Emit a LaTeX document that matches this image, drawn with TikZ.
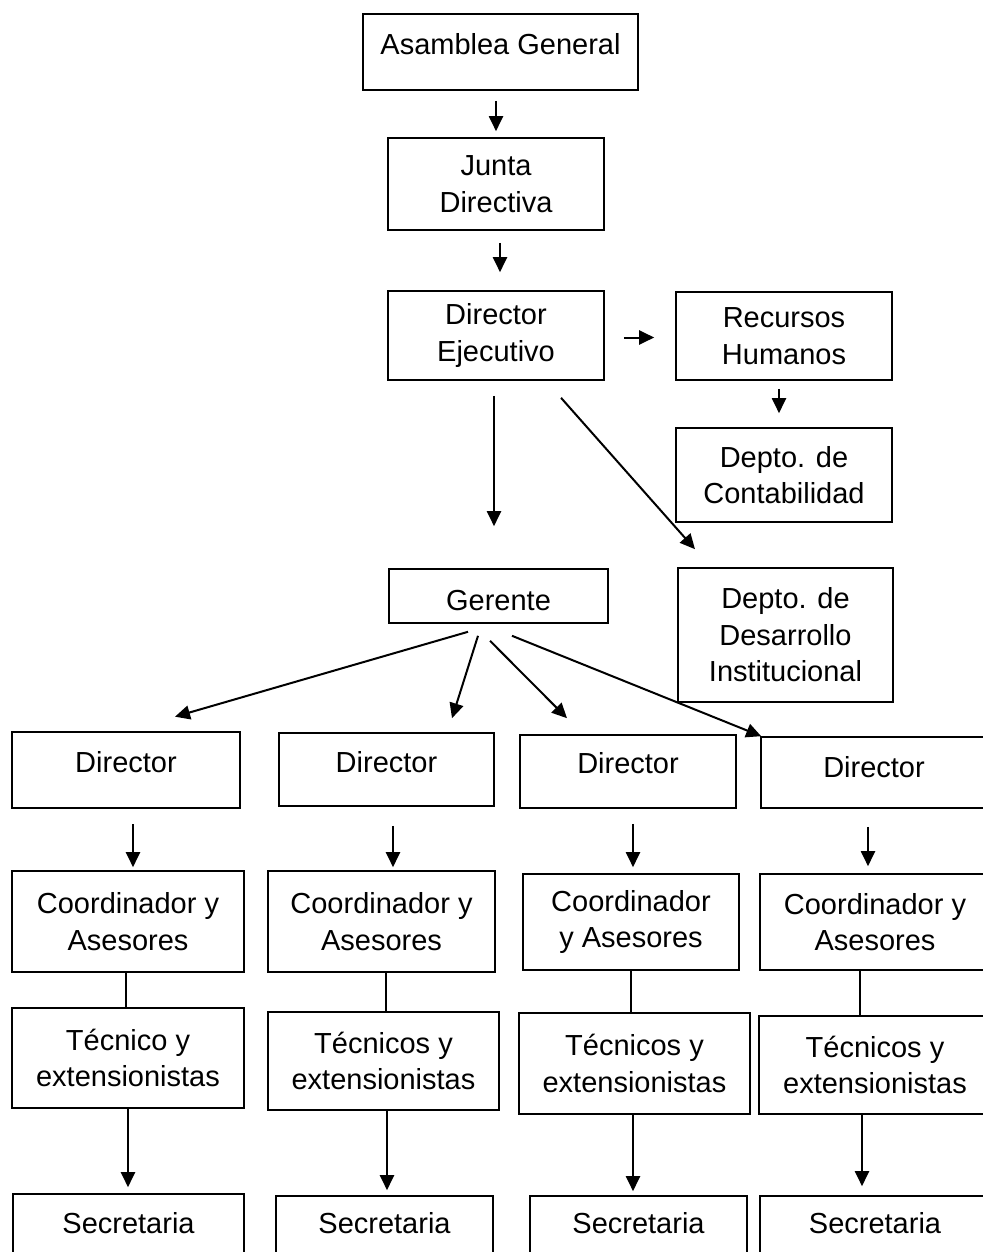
\documentclass[tikz,border=0pt]{standalone}
\usepackage{fontspec}
\setmainfont{Liberation Sans}
\usetikzlibrary{shapes, arrows.meta}
\tikzstyle{unit} = [rectangle, draw=black, line width=1.6pt, align=center, inner sep=0pt, font=\fontsize{29pt}{36.5pt}\selectfont]
\tikzstyle{edge} = [line width=2pt, -{Triangle[length=15pt, width=14pt]}]
\tikzstyle{link} = [line width=2pt]

\begin{document}
\begin{tikzpicture}[x=1pt, y=-1pt]
\useasboundingbox (0,0) rectangle (982,1252);

% upper levels
\node (ag) [unit, minimum width=275pt, minimum height=76pt, text depth=16pt] at (500.5,52) {Asamblea General};
\node (jd) [unit, minimum width=216pt, minimum height=92pt] at (496,184) {Junta\\Directiva};
\node (de) [unit, minimum width=216pt, minimum height=89pt] at (496,335.5) {Director\\Ejecutivo};
\node (rh) [unit, minimum width=216pt, minimum height=88pt] at (784,336) {Recursos\\Humanos};
\node (dc) [unit, minimum width=216pt, minimum height=94pt] at (784,475) {Depto. de\\Contabilidad};
\node (ger) [unit, minimum width=219pt, minimum height=54pt, text height=29pt] at (498.5,596) {Gerente};
\node (ddi) [unit, minimum width=215pt, minimum height=134pt] at (785.5,635) {Depto. de\\Desarrollo\\Institucional};

% directors
\node (d1) [unit, line width=2.6pt, minimum width=228pt, minimum height=76pt, text depth=16pt] at (126,770) {Director};
\node (d2) [unit, minimum width=215pt, minimum height=73pt, text depth=15pt] at (386.5,769.5) {Director};
\node (d3) [unit, minimum width=216pt, minimum height=73pt, text depth=17pt] at (628,771.5) {Director};
\node (d4) [unit, minimum width=226pt, minimum height=71pt, text depth=11pt] at (874,772.5) {Director};

% coordinators
\node (c1) [unit, minimum width=232pt, minimum height=101pt] at (128,921.5) {Coordinador y\\Asesores};
\node (c2) [unit, minimum width=227pt, minimum height=101pt] at (381.5,921.5) {Coordinador y\\Asesores};
\node (c3) [unit, minimum width=216pt, minimum height=96pt] at (631,922) {Coordinador\\y Asesores};
\node (c4) [unit, minimum width=230pt, minimum height=96pt] at (875,922) {Coordinador y\\Asesores};

% technicians
\node (t1) [unit, minimum width=232pt, minimum height=100pt] at (128,1058) {Técnico y\\extensionistas};
\node (t2) [unit, minimum width=231pt, minimum height=98pt] at (383.5,1061) {Técnicos y\\extensionistas};
\node (t3) [unit, minimum width=231pt, minimum height=101pt] at (634.5,1063.5) {Técnicos y\\extensionistas};
\node (t4) [unit, minimum width=232pt, minimum height=98pt] at (875,1065) {Técnicos y\\extensionistas};

% secretaries
\node (s1) [unit, minimum width=231pt, minimum height=68pt, text depth=10pt] at (128.5,1228) {Secretaria};
\node (s2) [unit, minimum width=217pt, minimum height=66pt, text depth=12pt] at (384.5,1229) {Secretaria};
\node (s3) [unit, minimum width=217pt, minimum height=66pt, text depth=12pt] at (638.5,1229) {Secretaria};
\node (s4) [unit, minimum width=230pt, minimum height=66pt, text depth=12pt] at (875,1229) {Secretaria};

\draw [edge, shorten <=10pt, shorten >=6pt] (ag.south -| jd.north) -- (jd.north);
\draw [edge, shorten <=12pt, shorten >=18pt] ([xshift=4pt]jd.south) -- ([xshift=4pt]de.north);
\draw [edge, shorten <=19pt, shorten >=21pt] ([yshift=-2pt]de.east) -- ([yshift=-2pt]de.east -| rh.west);
\draw [edge, shorten <=8pt, shorten >=14pt] ([xshift=-5pt]rh.south) -- ([xshift=-5pt]dc.north);
\draw [edge, shorten <=15pt, shorten >=42pt] ([xshift=-2pt]de.south) -- ([xshift=-2pt]de.south |- ger.north);
\draw [edge] ([xshift=65pt, yshift=-17pt]de.south) -- ([xshift=-90.5pt, yshift=18pt]ddi.north);

\draw [edge] ([xshift=-30.5pt, yshift=-8pt]ger.south) -- ([xshift=49pt, yshift=14pt]d1.north);
\draw [edge] ([xshift=-20.5pt, yshift=-12pt]ger.south) -- ([xshift=65.5pt, yshift=14pt]d2.north);
\draw [edge] ([xshift=-8.5pt, yshift=-17pt]ger.south) -- ([xshift=-61pt, yshift=16pt]d3.north);
\draw [edge] ([xshift=13.5pt, yshift=-12pt]ger.south) -- ([xshift=1pt]d4.north west);

\draw [edge, shorten <=15pt, shorten >=3pt] ([xshift=7pt]d1.south) -- ([xshift=5pt]c1.north);
\draw [edge, shorten <=19pt, shorten >=3pt] ([xshift=6.5pt]d2.south) -- ([xshift=11.5pt]c2.north);
\draw [edge, shorten <=15pt, shorten >=6pt] ([xshift=5pt]d3.south) -- ([xshift=2pt]c3.north);
\draw [edge, shorten <=18pt, shorten >=7pt] ([xshift=-6pt]d4.south) -- ([xshift=-7pt]c4.north);

\draw [link] ([xshift=-2pt]c1.south) -- ([xshift=-2pt]t1.north);
\draw [link] ([xshift=4.5pt]c2.south) -- ([xshift=2.5pt]t2.north);
\draw [link] (c3.south) -- ([xshift=-3.5pt]t3.north);
\draw [link] ([xshift=-15pt]c4.south) -- ([xshift=-15pt]t4.north);

\draw [edge, shorten >=6pt] (t1.south) -- (t1.south |- s1.north);
\draw [edge, shorten >=5pt] ([xshift=3.5pt]t2.south) -- ([xshift=2.5pt]s2.north);
\draw [edge, shorten >=4pt] ([xshift=-1.5pt]t3.south) -- ([xshift=-5.5pt]s3.north);
\draw [edge, shorten >=9pt] ([xshift=-13pt]t4.south) -- ([xshift=-13pt]s4.north);

\end{tikzpicture}
\end{document}
